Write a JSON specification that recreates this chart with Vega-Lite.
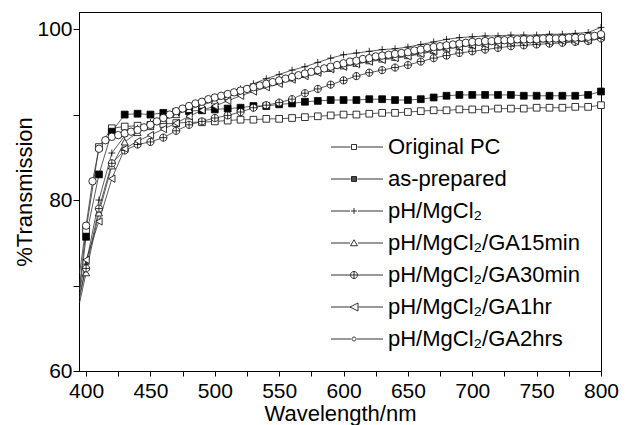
{
  "$schema": "https://vega.github.io/schema/vega-lite/v6.json",
  "width": 522,
  "height": 359,
  "autosize": {"type": "none"},
  "padding": {"left": 79, "top": 12, "right": 26, "bottom": 54},
  "background": "white",
  "config": {
    "font": "Liberation Sans",
    "view": {"stroke": "black", "strokeWidth": 1},
    "axis": {"labelFont": "Liberation Sans", "labelFontSize": 21, "labelColor": "black", "titleFont": "Liberation Sans", "titleFontSize": 22, "titleFontWeight": "normal", "titleColor": "black", "domainColor": "black", "tickColor": "black", "grid": false, "labelOverlap": false, "labelFlush": false},
    "legend": {"labelFont": "Liberation Sans", "labelFontSize": 22, "labelColor": "black", "labelOffset": 23, "rowPadding": 10, "padding": 0, "symbolSize": 25, "symbolStrokeWidth": 0.8, "symbolStrokeColor": "black", "symbolFillColor": "white", "symbolOpacity": 1, "labelLimit": 400}
  },
  "data": {"values": [
    {"s":"Original PC","x":395,"y":70.0},{"s":"Original PC","x":400,"y":76.5},{"s":"Original PC","x":410,"y":86.2},{"s":"Original PC","x":420,"y":88.4},{"s":"Original PC","x":430,"y":88.6},{"s":"Original PC","x":440,"y":88.7},{"s":"Original PC","x":450,"y":88.8},{"s":"Original PC","x":460,"y":88.9},{"s":"Original PC","x":470,"y":89.0},{"s":"Original PC","x":480,"y":89.1},{"s":"Original PC","x":490,"y":89.1},{"s":"Original PC","x":500,"y":89.2},{"s":"Original PC","x":510,"y":89.3},{"s":"Original PC","x":520,"y":89.4},{"s":"Original PC","x":530,"y":89.4},{"s":"Original PC","x":540,"y":89.5},{"s":"Original PC","x":550,"y":89.5},{"s":"Original PC","x":560,"y":89.6},{"s":"Original PC","x":570,"y":89.7},{"s":"Original PC","x":580,"y":89.8},{"s":"Original PC","x":590,"y":89.9},{"s":"Original PC","x":600,"y":90.0},{"s":"Original PC","x":610,"y":90.0},{"s":"Original PC","x":620,"y":90.1},{"s":"Original PC","x":630,"y":90.2},{"s":"Original PC","x":640,"y":90.2},{"s":"Original PC","x":650,"y":90.3},{"s":"Original PC","x":660,"y":90.4},{"s":"Original PC","x":670,"y":90.5},{"s":"Original PC","x":680,"y":90.5},{"s":"Original PC","x":690,"y":90.6},{"s":"Original PC","x":700,"y":90.6},{"s":"Original PC","x":710,"y":90.6},{"s":"Original PC","x":720,"y":90.7},{"s":"Original PC","x":730,"y":90.7},{"s":"Original PC","x":740,"y":90.7},{"s":"Original PC","x":750,"y":90.8},{"s":"Original PC","x":760,"y":90.8},{"s":"Original PC","x":770,"y":90.8},{"s":"Original PC","x":780,"y":90.9},{"s":"Original PC","x":790,"y":90.9},{"s":"Original PC","x":800,"y":91.1},
    {"s":"as-prepared","x":395,"y":69.5},{"s":"as-prepared","x":400,"y":75.7},{"s":"as-prepared","x":410,"y":83.0},{"s":"as-prepared","x":420,"y":88.0},{"s":"as-prepared","x":430,"y":90.0},{"s":"as-prepared","x":440,"y":90.1},{"s":"as-prepared","x":450,"y":90.0},{"s":"as-prepared","x":460,"y":90.2},{"s":"as-prepared","x":470,"y":90.3},{"s":"as-prepared","x":480,"y":90.4},{"s":"as-prepared","x":490,"y":90.5},{"s":"as-prepared","x":500,"y":90.6},{"s":"as-prepared","x":510,"y":90.7},{"s":"as-prepared","x":520,"y":90.8},{"s":"as-prepared","x":530,"y":91.0},{"s":"as-prepared","x":540,"y":91.0},{"s":"as-prepared","x":550,"y":91.2},{"s":"as-prepared","x":560,"y":91.3},{"s":"as-prepared","x":570,"y":91.5},{"s":"as-prepared","x":580,"y":91.6},{"s":"as-prepared","x":590,"y":91.7},{"s":"as-prepared","x":600,"y":91.7},{"s":"as-prepared","x":610,"y":91.7},{"s":"as-prepared","x":620,"y":91.8},{"s":"as-prepared","x":630,"y":91.8},{"s":"as-prepared","x":640,"y":91.7},{"s":"as-prepared","x":650,"y":91.7},{"s":"as-prepared","x":660,"y":91.8},{"s":"as-prepared","x":670,"y":92.0},{"s":"as-prepared","x":680,"y":92.2},{"s":"as-prepared","x":690,"y":92.3},{"s":"as-prepared","x":700,"y":92.3},{"s":"as-prepared","x":710,"y":92.3},{"s":"as-prepared","x":720,"y":92.3},{"s":"as-prepared","x":730,"y":92.3},{"s":"as-prepared","x":740,"y":92.2},{"s":"as-prepared","x":750,"y":92.2},{"s":"as-prepared","x":760,"y":92.2},{"s":"as-prepared","x":770,"y":92.2},{"s":"as-prepared","x":780,"y":92.2},{"s":"as-prepared","x":790,"y":92.3},{"s":"as-prepared","x":800,"y":92.7},
    {"s":"pH/MgCl₂","x":395,"y":68.5},{"s":"pH/MgCl₂","x":400,"y":72.5},{"s":"pH/MgCl₂","x":410,"y":80.0},{"s":"pH/MgCl₂","x":420,"y":85.5},{"s":"pH/MgCl₂","x":430,"y":87.5},{"s":"pH/MgCl₂","x":440,"y":88.4},{"s":"pH/MgCl₂","x":450,"y":89.1},{"s":"pH/MgCl₂","x":460,"y":89.8},{"s":"pH/MgCl₂","x":470,"y":90.4},{"s":"pH/MgCl₂","x":480,"y":90.9},{"s":"pH/MgCl₂","x":490,"y":91.3},{"s":"pH/MgCl₂","x":500,"y":91.8},{"s":"pH/MgCl₂","x":510,"y":92.4},{"s":"pH/MgCl₂","x":520,"y":93.0},{"s":"pH/MgCl₂","x":530,"y":93.6},{"s":"pH/MgCl₂","x":540,"y":94.2},{"s":"pH/MgCl₂","x":550,"y":94.7},{"s":"pH/MgCl₂","x":560,"y":95.2},{"s":"pH/MgCl₂","x":570,"y":95.6},{"s":"pH/MgCl₂","x":580,"y":96.1},{"s":"pH/MgCl₂","x":590,"y":96.6},{"s":"pH/MgCl₂","x":600,"y":97.0},{"s":"pH/MgCl₂","x":610,"y":97.2},{"s":"pH/MgCl₂","x":620,"y":97.4},{"s":"pH/MgCl₂","x":630,"y":97.6},{"s":"pH/MgCl₂","x":640,"y":97.7},{"s":"pH/MgCl₂","x":650,"y":97.9},{"s":"pH/MgCl₂","x":660,"y":98.2},{"s":"pH/MgCl₂","x":670,"y":98.5},{"s":"pH/MgCl₂","x":680,"y":98.8},{"s":"pH/MgCl₂","x":690,"y":99.0},{"s":"pH/MgCl₂","x":700,"y":99.1},{"s":"pH/MgCl₂","x":710,"y":99.2},{"s":"pH/MgCl₂","x":720,"y":99.2},{"s":"pH/MgCl₂","x":730,"y":99.3},{"s":"pH/MgCl₂","x":740,"y":99.3},{"s":"pH/MgCl₂","x":750,"y":99.3},{"s":"pH/MgCl₂","x":760,"y":99.4},{"s":"pH/MgCl₂","x":770,"y":99.4},{"s":"pH/MgCl₂","x":780,"y":99.5},{"s":"pH/MgCl₂","x":790,"y":99.6},{"s":"pH/MgCl₂","x":800,"y":100.2},
    {"s":"pH/MgCl₂/GA15min","x":395,"y":68.0},{"s":"pH/MgCl₂/GA15min","x":400,"y":71.5},{"s":"pH/MgCl₂/GA15min","x":410,"y":78.5},{"s":"pH/MgCl₂/GA15min","x":420,"y":84.0},{"s":"pH/MgCl₂/GA15min","x":430,"y":86.8},{"s":"pH/MgCl₂/GA15min","x":440,"y":87.9},{"s":"pH/MgCl₂/GA15min","x":450,"y":88.6},{"s":"pH/MgCl₂/GA15min","x":460,"y":89.3},{"s":"pH/MgCl₂/GA15min","x":470,"y":90.0},{"s":"pH/MgCl₂/GA15min","x":480,"y":90.6},{"s":"pH/MgCl₂/GA15min","x":490,"y":91.1},{"s":"pH/MgCl₂/GA15min","x":500,"y":91.6},{"s":"pH/MgCl₂/GA15min","x":510,"y":92.1},{"s":"pH/MgCl₂/GA15min","x":520,"y":92.6},{"s":"pH/MgCl₂/GA15min","x":530,"y":93.1},{"s":"pH/MgCl₂/GA15min","x":540,"y":93.5},{"s":"pH/MgCl₂/GA15min","x":550,"y":93.9},{"s":"pH/MgCl₂/GA15min","x":560,"y":94.3},{"s":"pH/MgCl₂/GA15min","x":570,"y":94.7},{"s":"pH/MgCl₂/GA15min","x":580,"y":95.1},{"s":"pH/MgCl₂/GA15min","x":590,"y":95.4},{"s":"pH/MgCl₂/GA15min","x":600,"y":95.7},{"s":"pH/MgCl₂/GA15min","x":610,"y":96.0},{"s":"pH/MgCl₂/GA15min","x":620,"y":96.3},{"s":"pH/MgCl₂/GA15min","x":630,"y":96.5},{"s":"pH/MgCl₂/GA15min","x":640,"y":96.7},{"s":"pH/MgCl₂/GA15min","x":650,"y":96.9},{"s":"pH/MgCl₂/GA15min","x":660,"y":97.2},{"s":"pH/MgCl₂/GA15min","x":670,"y":97.5},{"s":"pH/MgCl₂/GA15min","x":680,"y":97.8},{"s":"pH/MgCl₂/GA15min","x":690,"y":98.0},{"s":"pH/MgCl₂/GA15min","x":700,"y":98.2},{"s":"pH/MgCl₂/GA15min","x":710,"y":98.3},{"s":"pH/MgCl₂/GA15min","x":720,"y":98.4},{"s":"pH/MgCl₂/GA15min","x":730,"y":98.5},{"s":"pH/MgCl₂/GA15min","x":740,"y":98.5},{"s":"pH/MgCl₂/GA15min","x":750,"y":98.6},{"s":"pH/MgCl₂/GA15min","x":760,"y":98.6},{"s":"pH/MgCl₂/GA15min","x":770,"y":98.7},{"s":"pH/MgCl₂/GA15min","x":780,"y":98.7},{"s":"pH/MgCl₂/GA15min","x":790,"y":98.8},{"s":"pH/MgCl₂/GA15min","x":800,"y":99.3},
    {"s":"pH/MgCl₂/GA30min","x":395,"y":69.0},{"s":"pH/MgCl₂/GA30min","x":400,"y":72.0},{"s":"pH/MgCl₂/GA30min","x":410,"y":79.0},{"s":"pH/MgCl₂/GA30min","x":420,"y":84.3},{"s":"pH/MgCl₂/GA30min","x":430,"y":85.8},{"s":"pH/MgCl₂/GA30min","x":440,"y":86.5},{"s":"pH/MgCl₂/GA30min","x":450,"y":86.8},{"s":"pH/MgCl₂/GA30min","x":460,"y":87.3},{"s":"pH/MgCl₂/GA30min","x":470,"y":88.1},{"s":"pH/MgCl₂/GA30min","x":480,"y":88.8},{"s":"pH/MgCl₂/GA30min","x":490,"y":89.2},{"s":"pH/MgCl₂/GA30min","x":500,"y":89.6},{"s":"pH/MgCl₂/GA30min","x":510,"y":89.9},{"s":"pH/MgCl₂/GA30min","x":520,"y":90.3},{"s":"pH/MgCl₂/GA30min","x":530,"y":90.8},{"s":"pH/MgCl₂/GA30min","x":540,"y":91.1},{"s":"pH/MgCl₂/GA30min","x":550,"y":91.4},{"s":"pH/MgCl₂/GA30min","x":560,"y":91.8},{"s":"pH/MgCl₂/GA30min","x":570,"y":92.5},{"s":"pH/MgCl₂/GA30min","x":580,"y":93.0},{"s":"pH/MgCl₂/GA30min","x":590,"y":93.5},{"s":"pH/MgCl₂/GA30min","x":600,"y":94.0},{"s":"pH/MgCl₂/GA30min","x":610,"y":94.5},{"s":"pH/MgCl₂/GA30min","x":620,"y":94.9},{"s":"pH/MgCl₂/GA30min","x":630,"y":95.2},{"s":"pH/MgCl₂/GA30min","x":640,"y":95.5},{"s":"pH/MgCl₂/GA30min","x":650,"y":95.8},{"s":"pH/MgCl₂/GA30min","x":660,"y":96.2},{"s":"pH/MgCl₂/GA30min","x":670,"y":96.6},{"s":"pH/MgCl₂/GA30min","x":680,"y":96.9},{"s":"pH/MgCl₂/GA30min","x":690,"y":97.2},{"s":"pH/MgCl₂/GA30min","x":700,"y":97.4},{"s":"pH/MgCl₂/GA30min","x":710,"y":97.6},{"s":"pH/MgCl₂/GA30min","x":720,"y":97.8},{"s":"pH/MgCl₂/GA30min","x":730,"y":98.0},{"s":"pH/MgCl₂/GA30min","x":740,"y":98.1},{"s":"pH/MgCl₂/GA30min","x":750,"y":98.2},{"s":"pH/MgCl₂/GA30min","x":760,"y":98.3},{"s":"pH/MgCl₂/GA30min","x":770,"y":98.4},{"s":"pH/MgCl₂/GA30min","x":780,"y":98.5},{"s":"pH/MgCl₂/GA30min","x":790,"y":98.6},{"s":"pH/MgCl₂/GA30min","x":800,"y":98.9},
    {"s":"pH/MgCl₂/GA1hr","x":395,"y":69.5},{"s":"pH/MgCl₂/GA1hr","x":400,"y":73.0},{"s":"pH/MgCl₂/GA1hr","x":410,"y":77.5},{"s":"pH/MgCl₂/GA1hr","x":420,"y":82.5},{"s":"pH/MgCl₂/GA1hr","x":430,"y":86.0},{"s":"pH/MgCl₂/GA1hr","x":440,"y":86.9},{"s":"pH/MgCl₂/GA1hr","x":450,"y":87.6},{"s":"pH/MgCl₂/GA1hr","x":460,"y":88.3},{"s":"pH/MgCl₂/GA1hr","x":470,"y":89.0},{"s":"pH/MgCl₂/GA1hr","x":480,"y":89.8},{"s":"pH/MgCl₂/GA1hr","x":490,"y":90.5},{"s":"pH/MgCl₂/GA1hr","x":500,"y":91.0},{"s":"pH/MgCl₂/GA1hr","x":510,"y":91.6},{"s":"pH/MgCl₂/GA1hr","x":520,"y":92.2},{"s":"pH/MgCl₂/GA1hr","x":530,"y":92.7},{"s":"pH/MgCl₂/GA1hr","x":540,"y":93.2},{"s":"pH/MgCl₂/GA1hr","x":550,"y":93.6},{"s":"pH/MgCl₂/GA1hr","x":560,"y":94.1},{"s":"pH/MgCl₂/GA1hr","x":570,"y":94.5},{"s":"pH/MgCl₂/GA1hr","x":580,"y":94.9},{"s":"pH/MgCl₂/GA1hr","x":590,"y":95.3},{"s":"pH/MgCl₂/GA1hr","x":600,"y":95.6},{"s":"pH/MgCl₂/GA1hr","x":610,"y":95.9},{"s":"pH/MgCl₂/GA1hr","x":620,"y":96.2},{"s":"pH/MgCl₂/GA1hr","x":630,"y":96.4},{"s":"pH/MgCl₂/GA1hr","x":640,"y":96.6},{"s":"pH/MgCl₂/GA1hr","x":650,"y":96.8},{"s":"pH/MgCl₂/GA1hr","x":660,"y":97.1},{"s":"pH/MgCl₂/GA1hr","x":670,"y":97.4},{"s":"pH/MgCl₂/GA1hr","x":680,"y":97.7},{"s":"pH/MgCl₂/GA1hr","x":690,"y":97.9},{"s":"pH/MgCl₂/GA1hr","x":700,"y":98.1},{"s":"pH/MgCl₂/GA1hr","x":710,"y":98.2},{"s":"pH/MgCl₂/GA1hr","x":720,"y":98.3},{"s":"pH/MgCl₂/GA1hr","x":730,"y":98.4},{"s":"pH/MgCl₂/GA1hr","x":740,"y":98.4},{"s":"pH/MgCl₂/GA1hr","x":750,"y":98.5},{"s":"pH/MgCl₂/GA1hr","x":760,"y":98.5},{"s":"pH/MgCl₂/GA1hr","x":770,"y":98.6},{"s":"pH/MgCl₂/GA1hr","x":780,"y":98.6},{"s":"pH/MgCl₂/GA1hr","x":790,"y":98.7},{"s":"pH/MgCl₂/GA1hr","x":800,"y":99.1},
    {"s":"pH/MgCl₂/GA2hrs","x":395,"y":71.5},{"s":"pH/MgCl₂/GA2hrs","x":400,"y":77.0},{"s":"pH/MgCl₂/GA2hrs","x":405,"y":82.2},{"s":"pH/MgCl₂/GA2hrs","x":410,"y":86.0},{"s":"pH/MgCl₂/GA2hrs","x":415,"y":87.0},{"s":"pH/MgCl₂/GA2hrs","x":420,"y":87.4},{"s":"pH/MgCl₂/GA2hrs","x":425,"y":87.6},{"s":"pH/MgCl₂/GA2hrs","x":430,"y":87.8},{"s":"pH/MgCl₂/GA2hrs","x":435,"y":88.0},{"s":"pH/MgCl₂/GA2hrs","x":440,"y":88.2},{"s":"pH/MgCl₂/GA2hrs","x":445,"y":88.5},{"s":"pH/MgCl₂/GA2hrs","x":450,"y":88.8},{"s":"pH/MgCl₂/GA2hrs","x":455,"y":89.2},{"s":"pH/MgCl₂/GA2hrs","x":460,"y":89.6},{"s":"pH/MgCl₂/GA2hrs","x":465,"y":90.0},{"s":"pH/MgCl₂/GA2hrs","x":470,"y":90.4},{"s":"pH/MgCl₂/GA2hrs","x":475,"y":90.7},{"s":"pH/MgCl₂/GA2hrs","x":480,"y":91.0},{"s":"pH/MgCl₂/GA2hrs","x":485,"y":91.3},{"s":"pH/MgCl₂/GA2hrs","x":490,"y":91.5},{"s":"pH/MgCl₂/GA2hrs","x":495,"y":91.8},{"s":"pH/MgCl₂/GA2hrs","x":500,"y":92.0},{"s":"pH/MgCl₂/GA2hrs","x":505,"y":92.2},{"s":"pH/MgCl₂/GA2hrs","x":510,"y":92.4},{"s":"pH/MgCl₂/GA2hrs","x":515,"y":92.6},{"s":"pH/MgCl₂/GA2hrs","x":520,"y":92.8},{"s":"pH/MgCl₂/GA2hrs","x":525,"y":93.0},{"s":"pH/MgCl₂/GA2hrs","x":530,"y":93.2},{"s":"pH/MgCl₂/GA2hrs","x":535,"y":93.4},{"s":"pH/MgCl₂/GA2hrs","x":540,"y":93.6},{"s":"pH/MgCl₂/GA2hrs","x":545,"y":93.8},{"s":"pH/MgCl₂/GA2hrs","x":550,"y":94.0},{"s":"pH/MgCl₂/GA2hrs","x":555,"y":94.2},{"s":"pH/MgCl₂/GA2hrs","x":560,"y":94.4},{"s":"pH/MgCl₂/GA2hrs","x":565,"y":94.6},{"s":"pH/MgCl₂/GA2hrs","x":570,"y":94.8},{"s":"pH/MgCl₂/GA2hrs","x":575,"y":95.0},{"s":"pH/MgCl₂/GA2hrs","x":580,"y":95.2},{"s":"pH/MgCl₂/GA2hrs","x":585,"y":95.4},{"s":"pH/MgCl₂/GA2hrs","x":590,"y":95.6},{"s":"pH/MgCl₂/GA2hrs","x":595,"y":95.8},{"s":"pH/MgCl₂/GA2hrs","x":600,"y":96.0},{"s":"pH/MgCl₂/GA2hrs","x":605,"y":96.2},{"s":"pH/MgCl₂/GA2hrs","x":610,"y":96.3},{"s":"pH/MgCl₂/GA2hrs","x":615,"y":96.5},{"s":"pH/MgCl₂/GA2hrs","x":620,"y":96.6},{"s":"pH/MgCl₂/GA2hrs","x":625,"y":96.8},{"s":"pH/MgCl₂/GA2hrs","x":630,"y":96.9},{"s":"pH/MgCl₂/GA2hrs","x":635,"y":97.0},{"s":"pH/MgCl₂/GA2hrs","x":640,"y":97.1},{"s":"pH/MgCl₂/GA2hrs","x":645,"y":97.2},{"s":"pH/MgCl₂/GA2hrs","x":650,"y":97.3},{"s":"pH/MgCl₂/GA2hrs","x":655,"y":97.5},{"s":"pH/MgCl₂/GA2hrs","x":660,"y":97.6},{"s":"pH/MgCl₂/GA2hrs","x":665,"y":97.8},{"s":"pH/MgCl₂/GA2hrs","x":670,"y":97.9},{"s":"pH/MgCl₂/GA2hrs","x":675,"y":98.0},{"s":"pH/MgCl₂/GA2hrs","x":680,"y":98.1},{"s":"pH/MgCl₂/GA2hrs","x":685,"y":98.2},{"s":"pH/MgCl₂/GA2hrs","x":690,"y":98.3},{"s":"pH/MgCl₂/GA2hrs","x":695,"y":98.4},{"s":"pH/MgCl₂/GA2hrs","x":700,"y":98.5},{"s":"pH/MgCl₂/GA2hrs","x":705,"y":98.5},{"s":"pH/MgCl₂/GA2hrs","x":710,"y":98.6},{"s":"pH/MgCl₂/GA2hrs","x":715,"y":98.6},{"s":"pH/MgCl₂/GA2hrs","x":720,"y":98.7},{"s":"pH/MgCl₂/GA2hrs","x":725,"y":98.7},{"s":"pH/MgCl₂/GA2hrs","x":730,"y":98.7},{"s":"pH/MgCl₂/GA2hrs","x":735,"y":98.8},{"s":"pH/MgCl₂/GA2hrs","x":740,"y":98.8},{"s":"pH/MgCl₂/GA2hrs","x":745,"y":98.8},{"s":"pH/MgCl₂/GA2hrs","x":750,"y":98.8},{"s":"pH/MgCl₂/GA2hrs","x":755,"y":98.9},{"s":"pH/MgCl₂/GA2hrs","x":760,"y":98.9},{"s":"pH/MgCl₂/GA2hrs","x":765,"y":98.9},{"s":"pH/MgCl₂/GA2hrs","x":770,"y":98.9},{"s":"pH/MgCl₂/GA2hrs","x":775,"y":99.0},{"s":"pH/MgCl₂/GA2hrs","x":780,"y":99.0},{"s":"pH/MgCl₂/GA2hrs","x":785,"y":99.0},{"s":"pH/MgCl₂/GA2hrs","x":790,"y":99.1},{"s":"pH/MgCl₂/GA2hrs","x":795,"y":99.2},{"s":"pH/MgCl₂/GA2hrs","x":800,"y":99.4}
  ]},
  "encoding": {
    "x": {"field": "x", "type": "quantitative", "scale": {"domain": [394.5, 800], "nice": false, "zero": false}, "axis": {"title": "Wavelength/nm", "values": [400,425,450,475,500,525,550,575,600,625,650,675,700,725,750,775,800], "labelExpr": "datum.value % 50 == 0 ? datum.label : ''", "tickSize": 5, "labelPadding": 4, "titlePadding": 2}},
    "y": {"field": "y", "type": "quantitative", "scale": {"domain": [60, 102], "nice": false, "zero": false}, "axis": {"title": "%Transmission", "values": [60,70,80,90,100], "labelExpr": "datum.value % 20 == 0 ? datum.label : ''", "tickSize": 6, "labelPadding": 1, "titlePadding": 0}}
  },
  "layer": [
    {"mark": {"type": "line", "stroke": "#333333", "strokeWidth": 0.8, "clip": true}, "encoding": {"detail": {"field": "s"}, "order": {"field": "x"}}},
    {"transform": [{"filter": "datum.x >= 400"}],
     "mark": {"type": "point", "filled": true, "stroke": "black", "strokeWidth": 0.8, "opacity": 1},
     "encoding": {
       "shape": {"field": "s", "legend": null, "scale": {"domain": ["Original PC","as-prepared","pH/MgCl₂","pH/MgCl₂/GA15min","pH/MgCl₂/GA30min","pH/MgCl₂/GA1hr","pH/MgCl₂/GA2hrs"], "range": ["square","square","M-1,0H1M0,-1V1","triangle-up","M1,0A1,1 0 1,1 -1,0A1,1 0 1,1 1,0ZM-1,0H1M0,-1V1","triangle-left","circle"]}},
       "fill": {"field": "s", "legend": null, "scale": {"domain": ["Original PC","as-prepared","pH/MgCl₂","pH/MgCl₂/GA15min","pH/MgCl₂/GA30min","pH/MgCl₂/GA1hr","pH/MgCl₂/GA2hrs"], "range": ["white","black","white","white","white","white","white"]}},
       "size": {"field": "s", "legend": null, "scale": {"domain": ["Original PC","as-prepared","pH/MgCl₂","pH/MgCl₂/GA15min","pH/MgCl₂/GA30min","pH/MgCl₂/GA1hr","pH/MgCl₂/GA2hrs"], "range": [45,55,64,81,81,81,14]}}
     }},
    {"transform": [{"filter": "datum.x > 9000"}],
     "mark": {"type": "point", "filled": false, "stroke": "black", "strokeWidth": 0.8, "opacity": 1},
     "encoding": {
       "shape": {"field": "s",
         "legend": {"title": null, "orient": "none", "legendX": 264, "legendY": 124},
         "scale": {"domain": ["Original PC","as-prepared","pH/MgCl₂","pH/MgCl₂/GA15min","pH/MgCl₂/GA30min","pH/MgCl₂/GA1hr","pH/MgCl₂/GA2hrs"], "range": [
         "M-9.2,0H-1.4M1.4,0H11.6M-1,-1H1V1H-1Z",
         "M-9.2,0H-1.4M1.4,0H11.6M-1,-1H1V1H-1ZM-1,-0.7H1M-1,-0.35H1M-1,0H1M-1,0.35H1M-1,0.7H1",
         "M-9.2,0H-1.6M1.6,0H11.6M-1.2,0H1.2M0,-1.2V1.2",
         "M-9.2,0H-1.6M1.6,0H11.6M0,-1.3L1.4,1.1H-1.4Z",
         "M-9.2,0H-1.6M1.6,0H11.6M1.4,0A1.4,1.4 0 1,1 -1.4,0A1.4,1.4 0 1,1 1.4,0ZM-1.4,0H1.4M0,-1.4V1.4",
         "M-9.2,0H-1.6M1.8,0H11.6M-1.6,0L1.6,-1.6V1.6Z",
         "M-9.2,0H-1.2M1.2,0H11.6M0.8,0A0.8,0.8 0 1,1 -0.8,0A0.8,0.8 0 1,1 0.8,0Z"]}}
     }}
  ],
  "resolve": {"scale": {"shape": "independent", "fill": "independent", "size": "independent"}, "legend": {"shape": "independent"}}
}
